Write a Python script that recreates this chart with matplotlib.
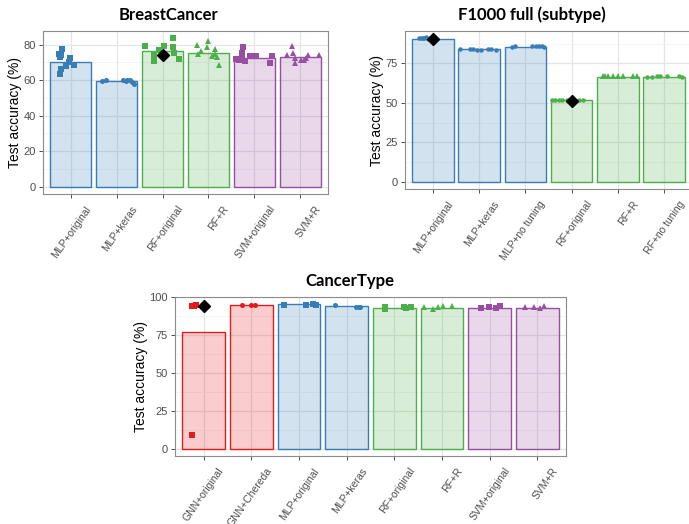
import matplotlib
matplotlib.use("Agg")
import matplotlib.pyplot as plt
import matplotlib.transforms as mtransforms
from matplotlib.ticker import MultipleLocator

# colours per method family (ColorBrewer Set1)
RED = "#E41A1C"
BLUE = "#377EB8"
GREEN = "#4DAF4A"
PURPLE = "#984EA3"

# ---- BreastCancer ----
bc_labels = ["MLP+original", "MLP+keras", "RF+original", "RF+R", "SVM+original", "SVM+R"]
bc_bars = [70.2, 59.6, 76.5, 75.3, 72.6, 73.1]
bc_points = [
    [77.4, 74.6, 74.4, 73.1, 72.6, 70.0, 68.7, 67.9, 66.1, 63.3],
    [59.3, 60.0, 60.0, 59.8, 59.8, 59.1, 57.8, 59.5],
    [79.5, 79.5, 83.7, 78.5, 77.2, 74.0, 72.0, 70.8, 75.5, 72.0],
    [80.0, 82.0, 78.7, 76.3, 74.6, 77.7, 74.6, 73.5, 72.8, 68.5],
    [78.7, 75.3, 71.7, 71.3, 70.9, 73.5, 73.5, 73.5, 69.4, 72.6],
    [79.2, 75.5, 74.1, 72.2, 74.1, 74.1, 71.3, 69.4, 72.2, 71.3],
]
bc_jitter = [
    [-0.18, -0.25, -0.21, -0.22, -0.02, -0.04, 0.07, -0.11, -0.20, -0.22],
    [-0.31, -0.24, 0.15, 0.23, 0.29, 0.33, 0.37, 0.20],
    [-0.38, 0.03, 0.22, 0.22, -0.08, -0.19, -0.18, -0.19, 0.25, 0.36],
    [-0.25, -0.01, -0.04, -0.17, -0.22, 0.14, 0.15, 0.07, 0.19, 0.22],
    [-0.25, -0.27, -0.41, -0.34, -0.20, -0.10, 0.04, 0.38, 0.33, -0.28],
    [-0.18, -0.16, -0.30, -0.11, 0.17, 0.41, 0.07, -0.11, 0.12, 0.02],
]
bc_markers = ["s", "o", "s", "^", "s", "^"]
bc_colors = [BLUE, BLUE, GREEN, GREEN, PURPLE, PURPLE]
bc_diamond = {2: 74.4}

# ---- F1000 full (subtype) ----
f1_labels = ["MLP+original", "MLP+keras", "MLP+no tuning", "RF+original", "RF+R", "RF+no tuning"]
f1_bars = [90.8, 83.9, 85.7, 51.8, 66.5, 66.3]
f1_points = [
    [91.0, 91.2, 91.3, 91.0, 91.5, 90.8, 91.2, 91.0],
    [84.0, 84.3, 84.2, 83.8, 83.4, 84.1, 84.1, 83.4],
    [85.7, 86.2, 86.3, 86.0, 86.2, 85.8, 85.6],
    [51.9, 52.1, 51.8, 52.0, 51.6, 51.8, 51.7, 51.9],
    [67.2, 67.0, 66.8, 66.9, 67.3, 66.8, 66.9, 67.0],
    [66.3, 66.5, 66.8, 66.9, 67.2, 66.8, 66.5],
]
f1_jitter = [
    [-0.30, -0.26, -0.22, -0.18, -0.14, -0.10, -0.05, 0.00],
    [-0.41, -0.19, -0.14, -0.04, 0.04, 0.20, 0.25, 0.37],
    [-0.29, -0.22, 0.15, 0.22, 0.29, 0.36, 0.40],
    [-0.42, -0.35, -0.28, -0.20, -0.10, 0.05, 0.15, 0.25],
    [-0.32, -0.27, -0.22, -0.11, 0.00, 0.11, 0.33, 0.41],
    [-0.37, -0.27, -0.16, -0.09, 0.06, 0.31, 0.38],
]
f1_markers = ["o", "o", "o", "o", "^", "o"]
f1_colors = [BLUE, BLUE, BLUE, GREEN, GREEN, GREEN]
f1_diamond = {0: 90.3, 3: 51.5}

# ---- CancerType ----
ct_labels = ["GNN+original", "GNN+Chereda", "MLP+original", "MLP+keras",
             "RF+original", "RF+R", "SVM+original", "SVM+R"]
ct_bars = [77.4, 95.1, 95.4, 94.1, 93.2, 93.2, 93.2, 93.2]
ct_points = [
    [94.3, 94.6, 94.8, 94.5, 9.2],
    [95.2, 94.8, 95.3],
    [95.3, 95.3, 95.5, 95.0],
    [95.0, 94.0, 93.7, 94.0],
    [93.5, 92.5, 93.6, 93.0, 93.7],
    [93.8, 92.6, 93.4, 94.3, 94.2],
    [93.3, 93.4, 93.0, 94.2],
    [93.8, 93.4, 93.2, 94.4],
]
ct_jitter = [
    [-0.25, -0.20, -0.15, -0.22, -0.25],
    [-0.19, -0.01, 0.07],
    [-0.31, 0.15, 0.29, 0.35],
    [-0.24, 0.20, 0.25, 0.29],
    [-0.19, -0.19, 0.21, 0.25, 0.35],
    [-0.38, -0.18, -0.09, 0.03, 0.21],
    [-0.19, -0.02, 0.14, 0.21],
    [-0.25, -0.08, 0.05, 0.13],
]
ct_markers = ["s", "o", "s", "o", "s", "^", "s", "^"]
ct_colors = [RED, RED, BLUE, BLUE, GREEN, GREEN, PURPLE, PURPLE]
ct_diamond = {0: 94.6}

plt.rcParams["font.family"] = ["Liberation Sans", "DejaVu Sans"]

W, H = 689, 524
fig = plt.figure(figsize=(W / 100, H / 100), dpi=100)


def draw_panel(ax, title, title_x, labels, bars, points, jitter, markers, colors,
               diamonds, ylim, major, msize):
    x = list(range(len(labels)))
    ax.bar(x, bars, width=0.9, color=colors, alpha=0.22, zorder=2)
    ax.bar(x, bars, width=0.9, facecolor="none", edgecolor=colors, linewidth=1.0, zorder=3)
    for i in x:
        xs = [i + j for j in jitter[i]]
        ms = msize * 0.85 if (markers[i] == "o" and msize > 3.5) else msize
        ax.plot(xs, points[i], linestyle="none", marker=markers[i], color=colors[i],
                markersize=ms, markeredgewidth=0, zorder=4)
    for i, v in diamonds.items():
        ax.plot([i], [v], linestyle="none", marker="D", color="black",
                markersize=6.3, zorder=5)
    ax.set_xlim(-0.6, len(labels) - 0.4)
    ax.set_ylim(*ylim)
    ax.set_xticks(x)
    ax.yaxis.set_major_locator(MultipleLocator(major))
    ax.yaxis.set_minor_locator(MultipleLocator(major / 2))
    ax.tick_params(axis="y", which="minor", length=0)
    ax.tick_params(axis="both", which="major", length=3, width=0.6, color="#333333",
                   labelsize=8, labelcolor="#4D4D4D", pad=2)
    ax.set_xticklabels(labels, rotation=55, ha="right", rotation_mode="anchor",
                       fontsize=7.5, color="#4D4D4D")
    # ggplot places rotated labels a bit right of the tick
    shift = mtransforms.ScaledTranslation(14 / 100, -3 / 100, fig.dpi_scale_trans)
    for lab in ax.get_xticklabels():
        lab.set_transform(lab.get_transform() + shift)
    ax.grid(True, which="major", color="#E5E5E5", linewidth=0.9, zorder=0)
    ax.grid(True, which="minor", axis="y", color="#F0F0F0", linewidth=0.5, zorder=0)
    ax.set_axisbelow(True)
    for s in ax.spines.values():
        s.set_color("#8C8C8C")
        s.set_linewidth(0.8)
    ax.set_ylabel("Test accuracy (%)", fontsize=10, labelpad=1)
    ax.set_title(title, fontsize=12, fontweight="bold", family=["Lato", "DejaVu Sans"],
                 pad=8, x=title_x)


ax1 = fig.add_axes([43 / W, 1 - 194 / H, 285 / W, 163 / H])
draw_panel(ax1, "BreastCancer", (168 - 43) / 285, bc_labels, bc_bars, bc_points,
           bc_jitter, bc_markers, bc_colors, bc_diamond, (-4.2, 87.7), 20, 4.3)

ax2 = fig.add_axes([405 / W, 1 - 189 / H, 287 / W, 158 / H])
draw_panel(ax2, "F1000 full (subtype)", (532 - 405) / 287, f1_labels, f1_bars, f1_points,
           f1_jitter, f1_markers, f1_colors, f1_diamond, (-4.55, 95.6), 25, 3.8)

ax3 = fig.add_axes([175 / W, 1 - 456 / H, 391 / W, 159 / H])
draw_panel(ax3, "CancerType", (350 - 175) / 391, ct_labels, ct_bars, ct_points,
           ct_jitter, ct_markers, ct_colors, ct_diamond, (-4.8, 100.3), 25, 4.3)

fig.savefig("out.png", dpi=100)
